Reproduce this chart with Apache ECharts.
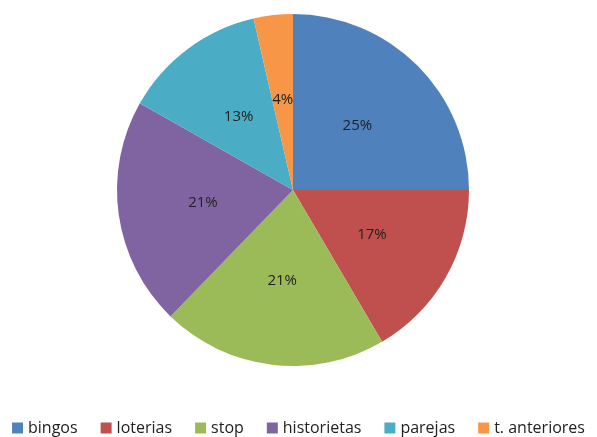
<!DOCTYPE html>
<html><head><meta charset="utf-8">
<script src="https://cdn.jsdelivr.net/npm/echarts@6/dist/echarts.min.js"></script>
<style>html,body{margin:0;padding:0;background:#fff}#c{width:597px;height:437px}</style>
</head><body><div id="c"></div>
<script>
var categories = ['bingos', 'loterias', 'stop', 'historietas', 'parejas', 't. anteriores'];
var values = [25, 16.55, 20.7, 20.95, 13.2, 3.6];
var colors = ['#4F81BD', '#C0504D', '#9BBB59', '#8064A2', '#4BACC6', '#F79646'];

var chart = echarts.init(document.getElementById('c'), null, {renderer: 'canvas'});
chart.setOption({
  animation: false,
  color: colors,
  legend: {
    top: 420,
    left: 'center',
    padding: 0,
    itemWidth: 11,
    itemHeight: 11,
    itemGap: 23,
    itemTextGap: 4,
    icon: 'rect',
    textStyle: {fontSize: 16, color: '#222', fontFamily: 'Open Sans'},
    data: categories
  },
  series: [{
    type: 'pie',
    center: [293, 190],
    radius: 176,
    startAngle: 90,
    clockwise: true,
    label: {
      position: 'inside',
      fontSize: 15,
      color: '#222',
      fontFamily: 'Open Sans',
      formatter: function (p) { return Math.round(p.percent) + '%'; }
    },
    labelLine: {show: false},
    itemStyle: {borderWidth: 0},
    data: categories.map(function (c, i) { return {name: c, value: values[i]}; })
  }]
});
</script></body></html>
